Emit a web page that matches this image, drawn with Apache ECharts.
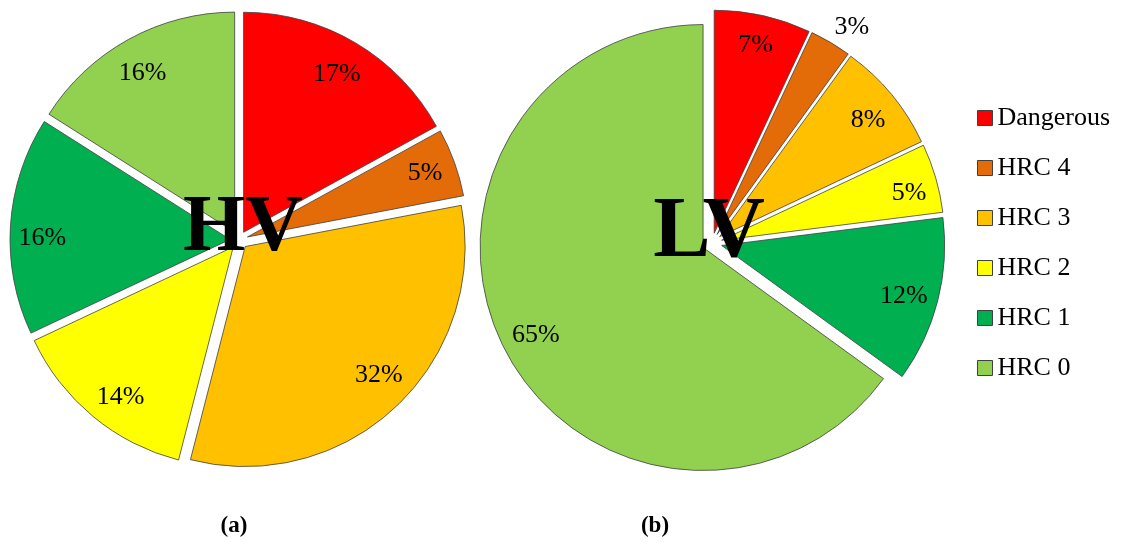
<!DOCTYPE html>
<html>
<head>
<meta charset="utf-8">
<script src="https://cdn.jsdelivr.net/npm/echarts@6/dist/echarts.min.js"></script>
<style>
  html, body { margin: 0; padding: 0; background: #ffffff; }
  #chart { width: 1125px; height: 542px; }
</style>
</head>
<body>
<div id="chart"></div>
<script>
// Hazard risk categories and their colours
const categories = ['Dangerous', 'HRC 4', 'HRC 3', 'HRC 2', 'HRC 1', 'HRC 0'];
const categoryColors = ['#FF0000', '#E36C09', '#FFC000', '#FFFF00', '#00B050', '#92D050'];

// Share of each category (%) for high-voltage and low-voltage equipment
const hvShares = [17, 5, 32, 14, 16, 16];
const lvShares = [7, 3, 8, 5, 12, 65];

const SERIF = '"Liberation Serif", "Times New Roman", serif';
const EDGE = '#404040';

// Small per-label nudges (px) so the percentages sit comfortably inside their slices
const hvLabelNudge = [[-4, 3], [-2, -2], [3, -14], [9, 0], [3, 8], [0, 5]];
// The thin HRC 4 slice of LV carries its label just outside the rim
const lvLabelNudge = [[0, -6], [38, -47], [2, 2], [5, 3], [-2, 0], [2, -2]];

// Exploded pie slices
function slices(values) {
  return values.map((v, i) => ({
    name: categories[i],
    value: v,
    selected: true,
    itemStyle: { color: categoryColors[i] }
  }));
}

// Transparent ring carrying the percentage labels further out along each slice
function labelRing(values, nudges) {
  return values.map((v, i) => ({
    name: categories[i],
    value: v,
    itemStyle: { color: 'rgba(0,0,0,0)', borderWidth: 0 },
    label: { offset: [nudges[i][0], nudges[i][1] + 3] }
  }));
}

function pieSeries(values, center, radius, offset) {
  return {
    type: 'pie',
    center: center,
    radius: [0, radius],
    startAngle: 90,
    clockwise: true,
    selectedMode: 'multiple',
    selectedOffset: offset,
    avoidLabelOverlap: false,
    silent: true,
    label: { show: false },
    labelLine: { show: false },
    itemStyle: { borderColor: EDGE, borderWidth: 0.8 },
    select: { itemStyle: { borderColor: EDGE, borderWidth: 0.8 } },
    emphasis: { disabled: true },
    data: slices(values)
  };
}

function labelSeries(values, center, ringInner, ringOuter, nudges) {
  return {
    type: 'pie',
    center: center,
    radius: [ringInner, ringOuter],
    startAngle: 90,
    clockwise: true,
    silent: true,
    avoidLabelOverlap: false,
    legendHoverLink: false,
    label: {
      show: true,
      position: 'inside',
      formatter: '{c}%',
      fontFamily: SERIF,
      fontSize: 26,
      color: '#000000'
    },
    labelLine: { show: false },
    emphasis: { disabled: true },
    data: labelRing(values, nudges)
  };
}

const hvCenter = [239, 240];
const lvCenter = [712, 243];

const option = {
  animation: false,
  backgroundColor: '#ffffff',
  legend: {
    orient: 'vertical',
    left: 972,
    top: 100,
    itemWidth: 15,
    itemHeight: 15,
    itemGap: 24,
    icon: 'rect',
    selectedMode: false,
    itemStyle: { borderColor: EDGE, borderWidth: 1 },
    textStyle: { fontFamily: SERIF, fontSize: 26, color: '#000000', lineHeight: 26, padding: [0, 0, 0, 0] },
    data: categories
  },
  graphic: [
    { type: 'text', x: 243, y: 229, style: { text: 'HV', fontFamily: SERIF, fontWeight: 'bold', fontSize: 80, fill: '#000000', align: 'center', verticalAlign: 'middle' }, z: 100 },
    { type: 'text', x: 709, y: 234, style: { text: 'LV', fontFamily: SERIF, fontWeight: 'bold', fontSize: 86, fill: '#000000', align: 'center', verticalAlign: 'middle' }, z: 100 },
    { type: 'text', x: 234, y: 526, style: { text: '(a)', fontFamily: SERIF, fontWeight: 'bold', fontSize: 23, fill: '#000000', align: 'center', verticalAlign: 'middle' } },
    { type: 'text', x: 655, y: 526, style: { text: '(b)', fontFamily: SERIF, fontWeight: 'bold', fontSize: 23, fill: '#000000', align: 'center', verticalAlign: 'middle' } }
  ],
  series: [
    pieSeries(hvShares, hvCenter, 220, 9),
    pieSeries(lvShares, lvCenter, 223, 10),
    labelSeries(hvShares, hvCenter, 178, 216, hvLabelNudge),
    labelSeries(lvShares, lvCenter, 178, 216, lvLabelNudge)
  ]
};

const chart = echarts.init(document.getElementById('chart'), null, { renderer: 'canvas' });
chart.setOption(option);
</script>
</body>
</html>
